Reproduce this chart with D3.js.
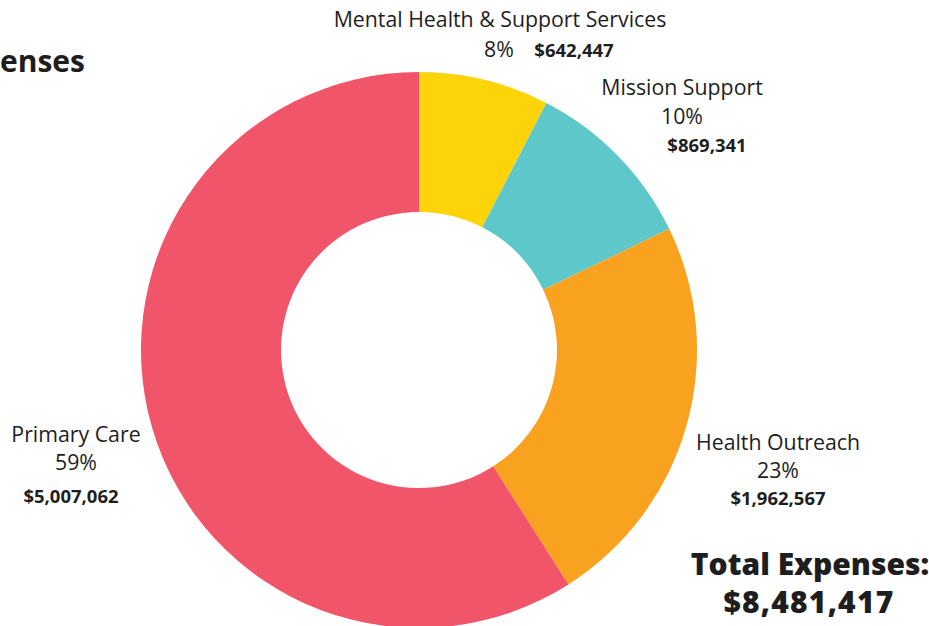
<!DOCTYPE html>
<html><head><meta charset="utf-8">
<script src="https://cdn.jsdelivr.net/npm/d3@7"></script>
<style>
html,body{margin:0;padding:0;background:#fff;overflow:hidden}
svg{display:block;font-family:"Open Sans",Lato,sans-serif}
</style></head>
<body><svg id="c" width="929" height="626"></svg>
<script>
const categories = ["Mental Health & Support Services","Mission Support","Health Outreach","Primary Care"];
const values = [642447, 869341, 1962567, 5007062];
const percents = ["8%","10%","23%","59%"];
const amounts = ["$642,447","$869,341","$1,962,567","$5,007,062"];
const colors = ["#FDD30A","#5DC7CA","#F8A21F","#F15569"];
const totalLabel = "Total Expenses:";
const totalValue = "$8,481,417";
const titleVisible = "enses";

const svg = d3.select("#c");
const cx = 419, cy = 350, R = 278, r = 138;
const data = categories.map((c,i)=>({name:c,value:values[i],pct:percents[i],amt:amounts[i],color:colors[i]}));
const pie = d3.pie().value(d=>d.value).sort(null);
const arc = d3.arc().innerRadius(r).outerRadius(R);
const g = svg.append("g").attr("transform",`translate(${cx},${cy})`);
g.selectAll("path").data(pie(data)).join("path").attr("d",arc).attr("fill",d=>d.data.color);

const ink = "#1e1e1e";
svg.append("text").attr("x",0).attr("y",72).attr("text-anchor","start")
  .attr("font-size",30).attr("font-weight",700).attr("fill",ink).text(titleVisible);

function label(x, lines){
  lines.forEach(l=>{
    svg.append("text").attr("x",l.x!==undefined?l.x:x).attr("y",l.y).attr("text-anchor",l.anchor||"middle")
      .attr("font-size",l.size).attr("font-weight",l.bold?700:400).attr("fill",ink).text(l.t);
  });
}
const fs = 21.3, fb = 18.5;
label(500,[
  {t:data[0].name,y:27,size:fs},
  {t:data[0].pct,x:499,y:57,size:fs},
  {t:data[0].amt,x:574,y:57,size:fb,bold:true}
]);
label(682,[
  {t:data[1].name,y:95,size:fs},
  {t:data[1].pct,y:124,size:fs},
  {t:data[1].amt,x:707,y:152,size:fb,bold:true}
]);
label(778,[
  {t:data[2].name,y:450,size:fs},
  {t:data[2].pct,y:478,size:fs},
  {t:data[2].amt,y:505,size:fb,bold:true}
]);
label(76,[
  {t:data[3].name,y:442,size:fs},
  {t:data[3].pct,y:470,size:fs},
  {t:data[3].amt,x:71,y:503,size:fb,bold:true}
]);
svg.append("text").attr("x",810).attr("y",575).attr("text-anchor","middle")
  .attr("font-size",30).attr("font-weight",800).attr("fill",ink).text(totalLabel);
svg.append("text").attr("x",809).attr("y",613).attr("text-anchor","middle")
  .attr("font-size",30).attr("font-weight",800).attr("letter-spacing",1.2).attr("fill",ink).text(totalValue);
</script></body></html>
